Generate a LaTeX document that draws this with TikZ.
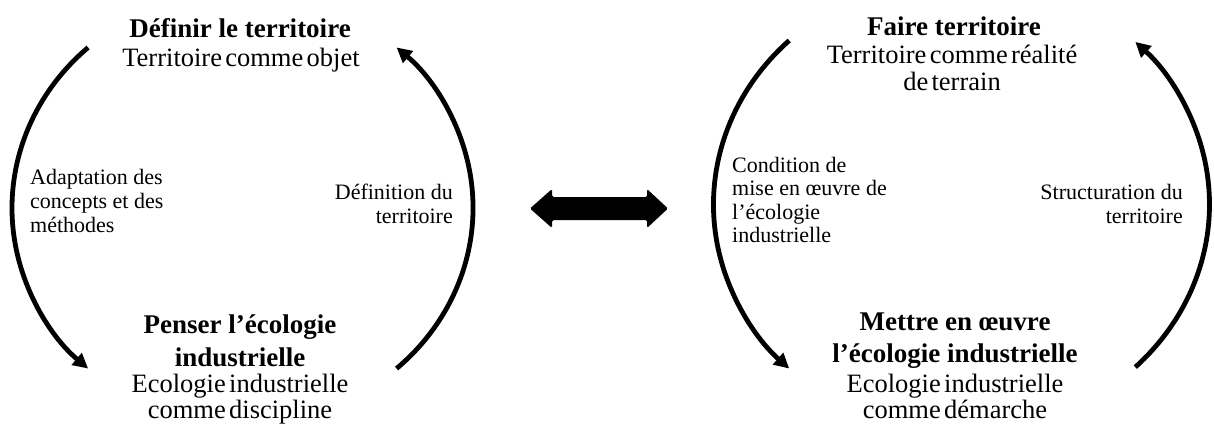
\documentclass[tikz,border=0pt]{standalone}
\usepackage{fontspec}
\setmainfont{Liberation Serif}
\newfontfamily\subfont[WordSpace=0.5]{Liberation Serif}
\usetikzlibrary{arrows.meta}
\begin{document}
\begin{tikzpicture}[x=1pt,y=-1pt,
  ttl/.style={font=\fontsize{27}{30}\selectfont\bfseries, anchor=base, inner sep=0pt},
  sub/.style={font=\subfont\fontsize{26.5}{28}\selectfont, anchor=base, inner sep=0pt},
  lbl/.style={font=\fontsize{22}{24}\selectfont, inner sep=0pt},
  cyc/.style={line width=4.8pt, -{Triangle[length=15pt,width=15pt]}}]
\useasboundingbox (0,0) rectangle (1214,429);

% ---- left cycle ----
\node[ttl] (t1a) at (240,37) {Définir le territoire};
\node[sub] (s1a) at (241,66) {Territoire comme objet};
\node[lbl, anchor=base west] (la1) at (30,184) {Adaptation des};
\node[lbl, anchor=base west] (la2) at (30,208) {concepts et des};
\node[lbl, anchor=base west] (la3) at (30,232) {méthodes};
\node[lbl, anchor=base east] (ra1) at (453,199) {Définition du};
\node[lbl, anchor=base east] (ra2) at (453,223) {territoire};
\node[ttl] (b1a) at (240,333) {Penser l’écologie};
\node[ttl] (b1b) at (240,366) {industrielle};
\node[sub] (c1a) at (240,392) {Ecologie industrielle};
\node[sub] (c1b) at (240,418) {comme discipline};

\coordinate (a1s) at (88.1,47.5);
\coordinate (a2s) at (396.6,368.5);
\draw[cyc] (a1s) arc[start angle=132, end angle=228, x radius=230pt, y radius=216pt];
\draw[cyc] (a2s) arc[start angle=-48, end angle=48, x radius=231pt, y radius=216pt];

% ---- right cycle ----
\node[ttl] (t2a) at (954,35) {Faire territoire};
\node[sub] (s2a) at (952,63) {Territoire comme réalité};
\node[sub] (s2b) at (952,90) {de terrain};
\node[lbl, anchor=base west] (lc1) at (732,172) {Condition de};
\node[lbl, anchor=base west] (lc2) at (732,195.5) {mise en œuvre de};
\node[lbl, anchor=base west] (lc3) at (732,219) {l’écologie};
\node[lbl, anchor=base west] (lc4) at (732,242.5) {industrielle};
\node[lbl, anchor=base east] (rs1) at (1183,199) {Structuration du};
\node[lbl, anchor=base east] (rs2) at (1183,223) {territoire};
\node[ttl] (b2a) at (955,330) {Mettre en œuvre};
\node[ttl] (b2b) at (955,362) {l’écologie industrielle};
\node[sub] (c2a) at (955,392) {Ecologie industrielle};
\node[sub] (c2b) at (955,418) {comme démarche};

\coordinate (b1s) at (789.2,40.5);
\coordinate (b2s) at (1135.3,367.1);
\draw[cyc] (b1s) arc[start angle=134, end angle=226, x radius=248pt, y radius=228pt];
\draw[cyc] (b2s) arc[start angle=-45.5, end angle=45.5, x radius=248pt, y radius=228pt];

% ---- double arrow between the cycles ----
\fill[rounded corners=1.5pt] (530,208.5) -- (552,189) -- (552,197) -- (647,197) -- (647,189)
  -- (668,208.5) -- (647,228) -- (647,220) -- (552,220) -- (552,228) -- cycle;
\end{tikzpicture}
\end{document}
